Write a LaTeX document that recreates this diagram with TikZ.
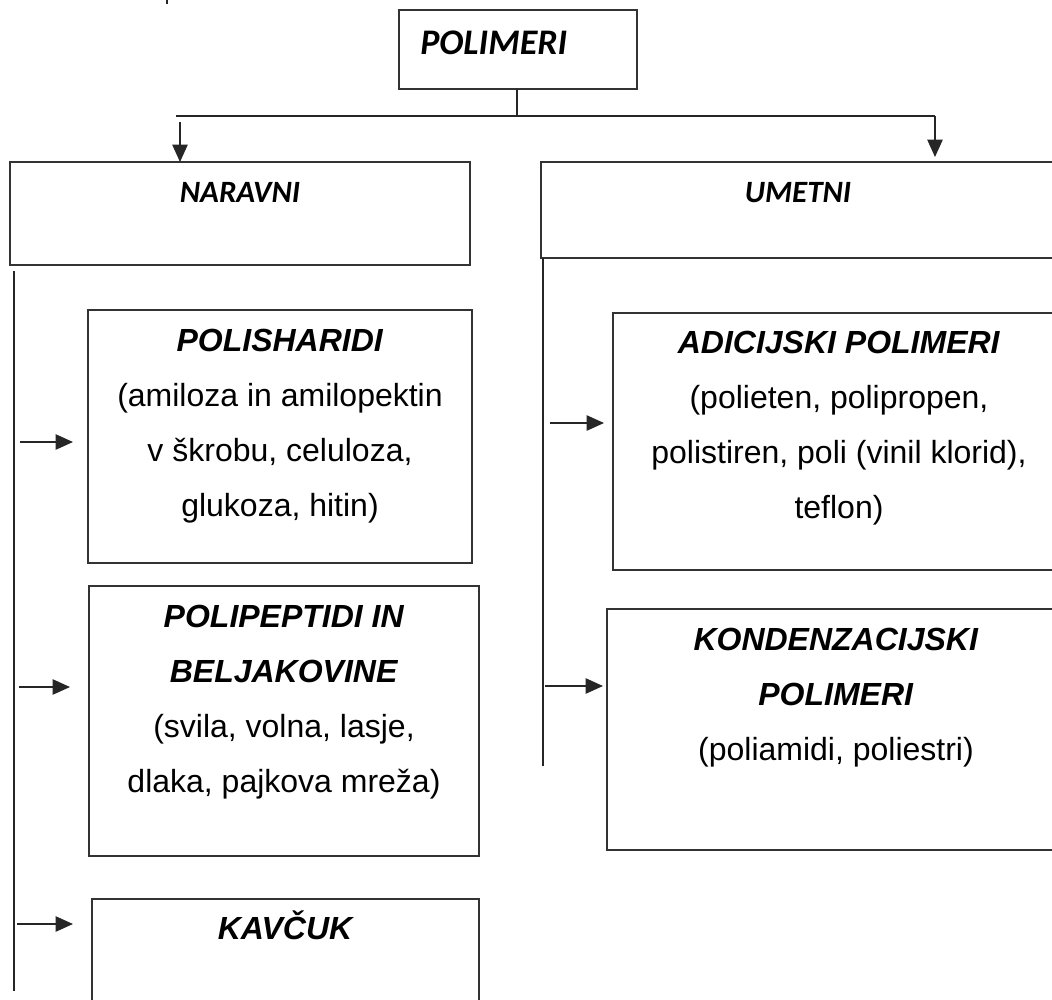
\documentclass[tikz,border=0pt]{standalone}
\usepackage{fontspec}
\setmainfont{Liberation Sans}
\newfontfamily\calfont{Carlito}
\usetikzlibrary{arrows.meta}
\newcommand\mkbox[5]{\node[box,minimum width={(#4-#2)*0.75pt},minimum height={(#5-#3)*0.75pt}] (#1) at ({(#2+#4)/2},{(#3+#5)/2}) {};}
\begin{document}
\begin{tikzpicture}[x=0.75pt,y=-0.75pt,
  box/.style={draw=black!80,line width=1pt,inner sep=0pt,outer sep=0pt},
  ln/.style={draw=black!85,line width=1pt},
  arr/.style={ln,-{Triangle[length=13pt,width=11.5pt]}},
  txt/.style={anchor=base,align=center,inner sep=0pt,font=\fontsize{24}{41.25}\selectfont},
  calhead/.style={anchor=base,inner sep=0pt,font=\calfont\bfseries\itshape\fontsize{23.25}{28}\selectfont}]
\useasboundingbox (0,0) rectangle (1052,999);
\clip (0,0) rectangle (1052,999);
% boxes
\mkbox{pol}{399}{10}{637}{89}
\mkbox{nar}{10}{162}{470}{265}
\mkbox{ume}{541}{162}{1065}{258}
\mkbox{psh}{88}{310}{472}{563}
\mkbox{ppt}{89}{586}{479}{856}
\mkbox{kav}{92}{899}{479}{1012}
\mkbox{adi}{613}{313}{1065}{570}
\mkbox{kon}{607}{609}{1065}{850}
% texts (anchor base = baseline of the last line)
\node[anchor=base west,inner sep=0pt,font=\calfont\bfseries\itshape\fontsize{27}{32}\selectfont] (tpol) at (420,55) {POLIMERI};
\node[calhead] (tnar) at (240,202) {NARAVNI};
\node[calhead] (tume) at (798,202) {UMETNI};
\node[txt] (tpsh) at (280,516) {\textbf{\textit{POLISHARIDI}}\\(amiloza in amilopektin\\v škrobu, celuloza,\\glukoza, hitin)};
\node[txt] (tppt) at (284,792) {\textbf{\textit{POLIPEPTIDI IN}}\\\textbf{\textit{BELJAKOVINE}}\\(svila, volna, lasje,\\dlaka, pajkova mreža)};
\node[txt] (tkav) at (286,939) {\textbf{\textit{KAVČUK}}};
\node[txt] (tadi) at (839,518) {\textbf{\textit{ADICIJSKI POLIMERI}}\\(polieten, polipropen,\\polistiren, poli (vinil klorid),\\teflon)};
\node[txt] (tkon) at (836,760) {\textbf{\textit{KONDENZACIJSKI}}\\\textbf{\textit{POLIMERI}}\\(poliamidi, poliestri)};
% top connectors
\coordinate (tick1) at (167,0);
\coordinate (tick2) at (167,4);
\draw[ln,line width=1.5pt] (tick1) -- (tick2);
\coordinate (hl) at (176,116);
\coordinate (hr) at (935,116);
\coordinate (la) at (180,122);
\coordinate (stem) at (517,116);
\draw[ln] (stem |- pol.south) -- (stem);
\draw[ln] (hl) -- (hr);
\draw[arr] (la) -- (la |- nar.north);
\draw[arr,shorten >=3.75pt] (hr) -- (hr |- ume.north);
% left spine
\coordinate (ls1) at (14,271);
\coordinate (ls2) at (14,991);
\draw[ln] (ls1) -- (ls2);
\coordinate (a1) at (20,442);
\coordinate (a2) at (19,687);
\coordinate (a3) at (17,924);
\draw[arr,shorten >=11.25pt] (a1) -- (a1 -| psh.west);
\draw[arr,shorten >=14.25pt] (a2) -- (a2 -| ppt.west);
\draw[arr,shorten >=14.25pt] (a3) -- (a3 -| kav.west);
% right spine
\coordinate (rs1) at (543,258);
\coordinate (rs2) at (543,766);
\draw[ln] (rs1) -- (rs2);
\coordinate (b1) at (550,423);
\coordinate (b2) at (545,686);
\draw[arr,shorten >=6.75pt] (b1) -- (b1 -| adi.west);
\draw[arr,shorten >=3pt] (b2) -- (b2 -| kon.west);
\end{tikzpicture}
\end{document}
